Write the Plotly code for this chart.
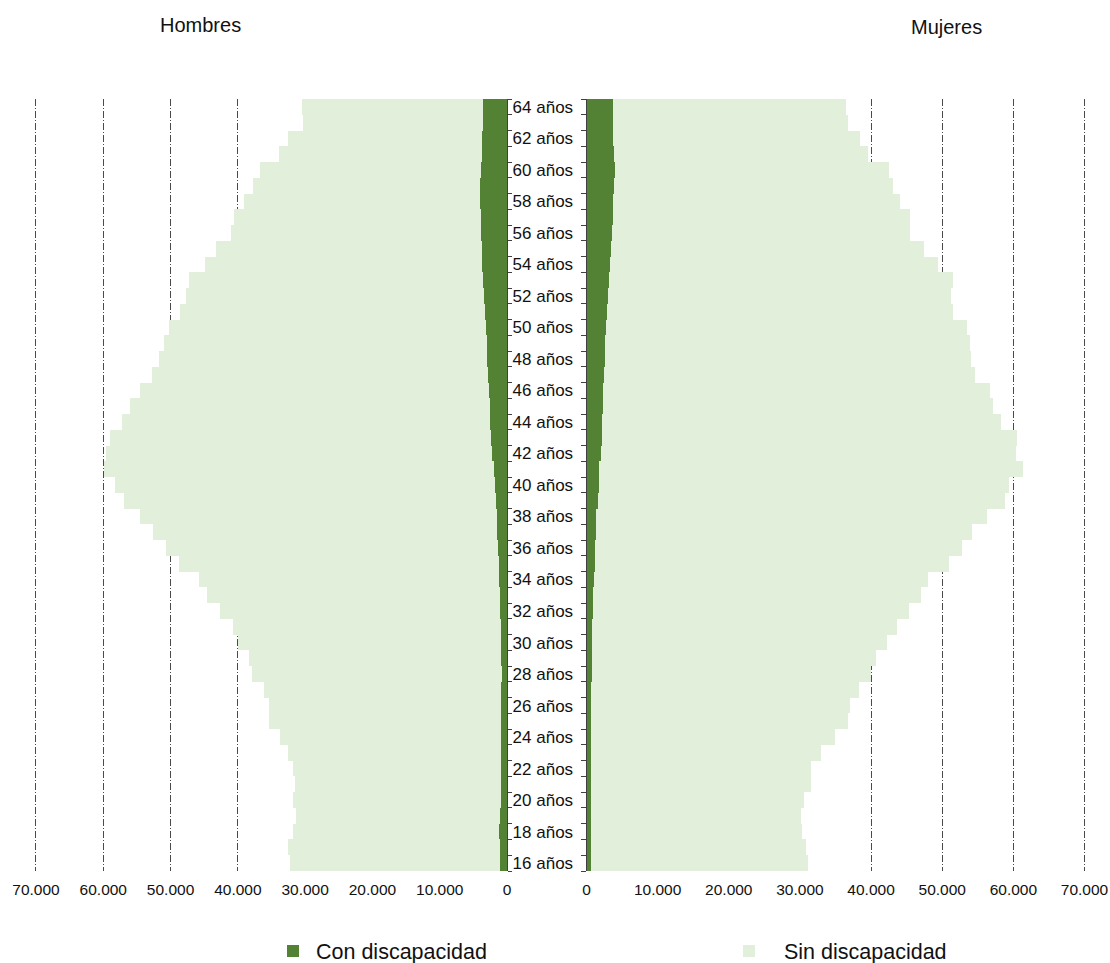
import plotly.graph_objects as go

ages = list(range(16, 65))

# Hombres (left panel), ages 16..64
hombres_total = [32270, 32440, 31760, 31250, 31760, 31420, 31820, 32440, 33750, 35280,
                 35400, 36140, 37840, 38350, 39940, 40740, 42670, 44550, 45800, 48690,
                 50630, 52500, 54490, 56870, 58240, 59890, 59550, 59030, 57100, 55970,
                 54430, 52780, 51700, 50910, 50170, 48580, 47730, 47270, 44830, 43240,
                 40970, 40570, 39090, 37670, 36590, 33860, 32560, 30340, 30450]
hombres_con = [1020, 1050, 1080, 950, 900, 880, 860, 850, 860, 880,
               900, 850, 760, 800, 850, 900, 970, 1020, 1080, 1180,
               1310, 1400, 1480, 1600, 1760, 1930, 2220, 2300, 2440, 2520,
               2610, 2750, 2900, 2980, 3070, 3250, 3400, 3450, 3640, 3700,
               3750, 3850, 3920, 3900, 3850, 3700, 3600, 3500, 3470]

# Mujeres (right panel), ages 16..64
mujeres_total = [31110, 30780, 30170, 30010, 30560, 31490, 31490, 32860, 34830, 36750,
                 36970, 38280, 39920, 40580, 42220, 43540, 45240, 46990, 47920, 50930,
                 52740, 54110, 56190, 58710, 59250, 61280, 60350, 60410, 58160, 57120,
                 56630, 54490, 53940, 53890, 53400, 51480, 51210, 51480, 49290, 47320,
                 45450, 45340, 44030, 43050, 42390, 39480, 38390, 36640, 36360]
mujeres_con = [600, 580, 570, 550, 550, 580, 590, 600, 600, 600,
               600, 620, 660, 690, 710, 760, 820, 900, 990, 1060,
               1150, 1230, 1310, 1500, 1700, 1750, 1970, 2050, 2140, 2200,
               2250, 2350, 2460, 2550, 2630, 2850, 3010, 3100, 3230, 3350,
               3450, 3600, 3720, 3800, 3890, 3750, 3650, 3620, 3610]

hombres_sin = [t - c for t, c in zip(hombres_total, hombres_con)]
mujeres_sin = [t - c for t, c in zip(mujeres_total, mujeres_con)]

x_tickvals = [0, 10000, 20000, 30000, 40000, 50000, 60000, 70000]
x_ticktext = ["0", "10.000", "20.000", "30.000", "40.000", "50.000", "60.000", "70.000"]

label_ages = [a for a in ages if a % 2 == 0]
label_text = [f"{a} años" for a in label_ages]
boundaries = [a + 0.5 for a in range(15, 65)]

DARK = "#548235"
LIGHT = "#E2EFDA"
FONT = "Liberation Sans, Arial, sans-serif"

W, H = 1110, 963


def px(x):
    return x / W


def py(y):
    return 1 - y / H


fig = go.Figure()
fig.add_trace(go.Bar(y=ages, x=hombres_con, orientation="h", marker=dict(color=DARK, line=dict(width=0)),
                     name="Con discapacidad", xaxis="x", yaxis="y", showlegend=False,
                     legendgroup="con"))
fig.add_trace(go.Bar(y=ages, x=hombres_sin, orientation="h", marker=dict(color=LIGHT, line=dict(width=0)),
                     name="Sin discapacidad", xaxis="x", yaxis="y", showlegend=False,
                     legendgroup="sin"))
fig.add_trace(go.Bar(y=ages, x=mujeres_con, orientation="h", marker=dict(color=DARK, line=dict(width=0)),
                     name="Con discapacidad", xaxis="x2", yaxis="y2", legend="legend",
                     legendgroup="con"))
fig.add_trace(go.Bar(y=ages, x=mujeres_sin, orientation="h", marker=dict(color=LIGHT, line=dict(width=0)),
                     name="Sin discapacidad", xaxis="x2", yaxis="y2", legend="legend2",
                     legendgroup="sin"))

ydom = [py(871), py(99)]
grid_dash = "7px,2px,1px,2px"
XMAX = 70000
PAD = 400  # small range extension so the 70.000 grid line is not clipped at the edge

# pixel geometry of the panels (0 -> 70.000)
L0, L70 = 507.0, 36.0
R0, R70 = 586.5, 1084.5
l_end = L0 - (L0 - L70) * (XMAX + PAD) / XMAX
r_end = R0 + (R70 - R0) * (XMAX + PAD) / XMAX

common_x = dict(tickmode="array", tickvals=x_tickvals, ticktext=x_ticktext,
                showgrid=True, gridcolor="#4a4a4a", gridwidth=1, griddash=grid_dash,
                zeroline=False, showline=False, ticks="outside", ticklen=4,
                tickcolor="rgba(0,0,0,0)", tickfont=dict(size=15.5, color="#111", family=FONT),
                fixedrange=True, automargin=False)

fig.update_layout(
    template="none",
    width=W, height=H,
    margin=dict(l=0, r=0, t=0, b=0, pad=0, autoexpand=False),
    paper_bgcolor="white", plot_bgcolor="white",
    barmode="stack", bargap=0,
    font=dict(family=FONT, color="#111"),
    xaxis=dict(domain=[px(l_end), px(L0)], range=[XMAX + PAD, 0], anchor="y", **common_x),
    xaxis2=dict(domain=[px(R0), px(r_end)], range=[0, XMAX + PAD], anchor="y2", **common_x),
    yaxis=dict(domain=ydom, range=[15.5, 64.5], anchor="x", side="right",
               showline=True, linecolor="#404040", linewidth=1,
               showticklabels=False, showgrid=False, zeroline=False, automargin=False,
               ticks="", tickmode="array", tickvals=label_ages,
               minor=dict(tickmode="array", tickvals=boundaries, ticks="outside",
                          ticklen=4, tickcolor="#404040", tickwidth=1, showgrid=False)),
    yaxis2=dict(domain=ydom, range=[15.5, 64.5], anchor="x2", side="left",
                showline=True, linecolor="#404040", linewidth=1,
                showgrid=False, zeroline=False, automargin=False,
                tickmode="array", tickvals=label_ages, ticktext=label_text,
                ticks="outside", ticklen=9, tickcolor="rgba(0,0,0,0)",
                tickfont=dict(size=17, color="#111", family=FONT),
                minor=dict(tickmode="array", tickvals=boundaries, ticks="outside",
                           ticklen=5, tickcolor="#404040", tickwidth=1, showgrid=False)),
    legend=dict(orientation="h", x=px(270), xanchor="left", y=py(951), yanchor="middle",
                itemwidth=36, font=dict(size=21.5, family=FONT, color="#111"),
                bgcolor="rgba(0,0,0,0)"),
    legend2=dict(orientation="h", x=px(714), xanchor="left", y=py(951), yanchor="middle",
                 itemwidth=60, font=dict(size=21.5, family=FONT, color="#111"),
                 bgcolor="rgba(0,0,0,0)"),
    annotations=[
        dict(text="Hombres", x=px(200), y=py(25), xref="paper", yref="paper",
             showarrow=False, font=dict(size=20, family=FONT, color="#111"),
             xanchor="center", yanchor="middle"),
        dict(text="Mujeres", x=px(946), y=py(27), xref="paper", yref="paper",
             showarrow=False, font=dict(size=20, family=FONT, color="#111"),
             xanchor="center", yanchor="middle"),
    ],
)

# remove the default 8px page margin so the 1110x963 figure fills the window exactly
fig.write_html("out.html",
               config={"displayModeBar": False},
               post_script="document.body.style.margin='0px';document.body.style.overflow='hidden';")
